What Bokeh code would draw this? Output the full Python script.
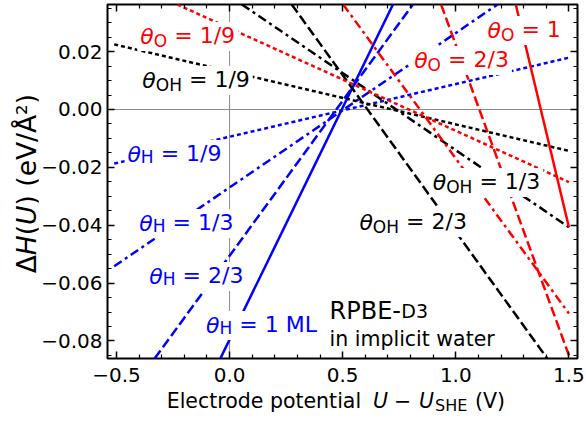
import numpy as np
from bokeh.plotting import figure
from bokeh.models import Range1d, LinearAxis, FixedTicker, Label, Span, CustomJSTickFormatter, Div
from bokeh.layouts import row, column
from bokeh.embed import file_html
from bokeh.resources import INLINE

# ---------------- data ----------------
coverages = ["1/9", "1/3", "2/3", "1"]

# H adsorption lines (theta_H = 1/9, 1/3, 2/3, 1 ML)
h_u_start = [-0.51, -0.51, -0.3314, -0.0409]
h_dh_start = [-0.0187, -0.0542, -0.0861, -0.0861]
h_u_end = [1.50, 1.1844, 0.8103, 0.7223]
h_dh_end = [0.0179, 0.0363, 0.0363, 0.0363]

# OH adsorption lines (theta_OH = 1/9, 1/3, 2/3)
oh_u_start = [-0.51, 0.0546, 0.2746]
oh_dh_start = [0.0225, 0.0363, 0.0363]
oh_u_end = [1.50, 1.50, 1.4045]
oh_dh_end = [-0.0143, -0.0407, -0.0861]

# O adsorption lines (theta_O = 1/9, 1/3, 2/3, 1)
o_u_start = [-0.2315, 0.5022, 0.9349, 1.265]
o_dh_start = [0.0363, 0.0363, 0.0363, 0.0363]
o_u_end = [1.50, 1.50, 1.50, 1.50]
o_dh_end = [-0.0251, -0.0705, -0.0850, -0.0407]

x_ticks = [-0.5, 0.0, 0.5, 1.0, 1.5]
x_tick_labels = ["\u22120.5", "0.0", "0.5", "1.0", "1.5"]
y_ticks = [-0.08, -0.06, -0.04, -0.02, 0.0, 0.02]
y_tick_labels = ["\u22120.08", "\u22120.06", "\u22120.04", "\u22120.02", "0.00", "0.02"]

# ---------------- layout ----------------
FL, FR, FT, FB = 105, 577, 4, 358          # frame edges in page pixels
XR = (-0.5396, 1.5379)
YR = (-0.08607, 0.03629)
YDIV_W = 38
FIG_W, FIG_H = 586 - YDIV_W, 393
XDIV_H = 422 - FIG_H

def X(px):
    return XR[0] + (px - FL) / (FR - FL) * (XR[1] - XR[0])

def Y(py):
    return YR[1] - (py - FT) / (FB - FT) * (YR[1] - YR[0])

p = figure(width=FIG_W, height=FIG_H, output_backend="svg", toolbar_location=None,
           x_range=Range1d(*XR), y_range=Range1d(*YR),
           min_border_left=FL - YDIV_W, min_border_right=FIG_W - (FR - YDIV_W),
           min_border_top=FT, min_border_bottom=FIG_H - FB, margin=0)
p.xgrid.visible = False
p.ygrid.visible = False
p.outline_line_color = "black"
p.outline_line_width = 2
p.background_fill_color = "white"
p.border_fill_color = "white"

x_minor = [round(v, 3) for v in np.arange(-0.5, 1.51, 0.1).tolist() if round(v, 3) not in x_ticks]
y_minor = [round(v, 4) for v in np.arange(-0.085, 0.0351, 0.005).tolist()]

def style_axis(ax, ticks, minor, labels=None, standoff=5):
    ax.ticker = FixedTicker(ticks=ticks, minor_ticks=minor)
    ax.axis_line_color = None
    ax.major_tick_in = 7
    ax.major_tick_out = 0
    ax.minor_tick_in = 4
    ax.minor_tick_out = 0
    ax.major_tick_line_color = "black"
    ax.minor_tick_line_color = "black"
    ax.major_tick_line_width = 1.5
    ax.minor_tick_line_width = 1.2
    ax.major_label_standoff = standoff
    if labels is None:
        ax.formatter = CustomJSTickFormatter(code="return ''")
        ax.major_label_text_font_size = "0px"
    else:
        ax.major_label_overrides = {t: s for t, s in zip(ticks, labels)}
        ax.major_label_text_font = "DejaVu Sans"
        ax.major_label_text_font_size = "20px"
        ax.major_label_text_color = "black"

style_axis(p.xaxis[0], x_ticks, x_minor, x_tick_labels, standoff=9)
style_axis(p.yaxis[0], y_ticks, y_minor, y_tick_labels, standoff=5)
top_ax = LinearAxis()
right_ax = LinearAxis()
style_axis(top_ax, x_ticks, x_minor, None, standoff=0)
style_axis(right_ax, y_ticks, y_minor, None, standoff=0)
p.add_layout(top_ax, "above")
p.add_layout(right_ax, "right")

# zero lines
p.add_layout(Span(location=0, dimension="width", line_color="#8c8c8c", line_width=1, level="underlay"))
p.add_layout(Span(location=0, dimension="height", line_color="#8c8c8c", line_width=1, level="underlay"))

# ---------------- lines ----------------
dashes = ["4 3", "9 4 3 4", "10 4", "solid"]

def draw(us, hs, ue, he, color, dash_list):
    for a, b, c, d, dash in zip(us, hs, ue, he, dash_list):
        p.line([a, c], [b, d], line_color=color, line_width=2.5, line_dash=dash)

draw(h_u_start, h_dh_start, h_u_end, h_dh_end, "#0000ff", dashes)
draw(oh_u_start, oh_dh_start, oh_u_end, oh_dh_end, "black", dashes[:3])
draw(o_u_start, o_dh_start, o_u_end, o_dh_end, "#ff0000", dashes)

# ---------------- in-plot text ----------------
DV = {' ': 651, '(': 799, ')': 799, '-': 739, '.': 651, '/': 690, '=': 1716, '\u2212': 1716,
      'A': 1401, 'B': 1405, 'D': 1577, 'E': 1294, 'H': 1540, 'L': 1141, 'M': 1767, 'O': 1612,
      'P': 1235, 'R': 1423, 'S': 1300, 'U': 1499, 'V': 1401, 'a': 1255, 'c': 1126, 'd': 1300,
      'e': 1260, 'i': 569, 'l': 569, 'm': 1995, 'n': 1298, 'o': 1253, 'p': 1300, 'r': 842,
      't': 803, 'v': 1212, 'w': 1675, '\u03b8': 1253, '\u0394': 1401, '\u00c5': 1401, '\u00b2': 821}
for dg in "0123456789":
    DV[dg] = 1303

def adv(txt, size):
    return sum(DV.get(ch, 1250) for ch in txt) / 2048.0 * size

FONT = "DejaVu Sans"

def annot(sub_txt, rest, x_px, base_px, color, size=22, sub=17, drop=4):
    x_sub = x_px + adv("\u03b8", size)
    x_rest = x_sub + adv(sub_txt, sub) + adv(" ", size)
    lead = int(round(x_rest - x_px)) + 3
    # the last piece carries one white box that spans the whole label
    pad = dict(left=lead, right=3, top=1, bottom=3)
    p.add_layout(Label(x=X(x_rest - lead), y=Y(base_px), text=rest, text_color=color,
                       text_font=FONT, text_font_size=f"{size}px", text_align="left",
                       text_baseline="alphabetic", background_fill_color="white", padding=pad))
    p.add_layout(Label(x=X(x_sub), y=Y(base_px + drop), text=sub_txt, text_color=color,
                       text_font=FONT, text_font_size=f"{sub}px", text_align="left",
                       text_baseline="alphabetic"))
    p.add_layout(Label(x=X(x_px), y=Y(base_px), text="\u03b8", text_color=color, text_font=FONT,
                       text_font_size=f"{size}px", text_font_style="italic", text_align="left",
                       text_baseline="alphabetic"))

annot("O", "= " + coverages[0], 138, 36, "#ff0000")
annot("OH", "= " + coverages[0], 140, 80, "black")
annot("OH", "= " + coverages[1], 431.7, 182, "black")
annot("OH", "= " + coverages[2], 358, 222, "black")
annot("O", "= " + coverages[2], 413, 60, "#ff0000")
annot("O", "= " + coverages[3], 486.7, 30, "#ff0000")
annot("H", "= " + coverages[0], 125, 154, "#0000ff", drop=2.5)
annot("H", "= " + coverages[1], 137, 223, "#0000ff", drop=2.5)
annot("H", "= " + coverages[2], 147, 276, "#0000ff", drop=2.5)
annot("H", "= 1 ML", 204, 325, "#0000ff", drop=2.5)

def plain(txt, x_px, base_px, size):
    p.add_layout(Label(x=X(x_px), y=Y(base_px), text=txt, text_color="black", text_font=FONT,
                       text_font_size=f"{size}px", text_align="left", text_baseline="alphabetic"))

plain("RPBE-", 328, 310, 24)
plain("D3", 400, 310, 19)
plain("in implicit water", 328, 338, 20.5)

# ---------------- axis titles (HTML, outside the canvas) ----------------
def span(txt, left, base, fs, italic=False):
    top = base - 0.846 * fs
    st = "italic" if italic else "normal"
    return (f'<span style="position:absolute;left:{left:.1f}px;top:{top:.1f}px;'
            f'font-size:{fs}px;line-height:1;font-style:{st};white-space:nowrap">{txt}</span>')

xb = 408.5 - FIG_H
x_html = (f'<div style="position:relative;width:586px;height:{XDIV_H}px;'
          'font-family:\'DejaVu Sans\';color:black">'
          + span("Electrode potential", 166.7, xb, 20.5)
          + span("U", 373, xb, 20.5, True)
          + span("\u2212", 394, xb, 20.5)
          + span("U", 419, xb, 20.5, True)
          + span("SHE", 435, xb + 3, 16)
          + span("(V)", 475, xb, 20.5)
          + '</div>')
xdiv = Div(text=x_html, width=586, height=XDIV_H, margin=0)

yfs = 26.5
ytx = 36.7 - 0.846 * yfs
y_html = (f'<div style="position:relative;width:{YDIV_W}px;height:{FIG_H}px;">'
          f'<div style="position:absolute;left:0;top:0;transform-origin:0 0;'
          f'transform:translate({ytx:.1f}px,273.3px) rotate(-90deg);white-space:nowrap;'
          f'font-family:\'DejaVu Sans\';font-size:{yfs}px;line-height:1;color:black">'
          '\u0394<i>H</i>(<i>U</i>)&nbsp;(eV/\u00c5\u00b2)</div></div>')
ydiv = Div(text=y_html, width=YDIV_W, height=FIG_H, margin=0)

layout = column(row(ydiv, p, spacing=0), xdiv, spacing=0)

open("out.html", "w").write(file_html(layout, INLINE))
